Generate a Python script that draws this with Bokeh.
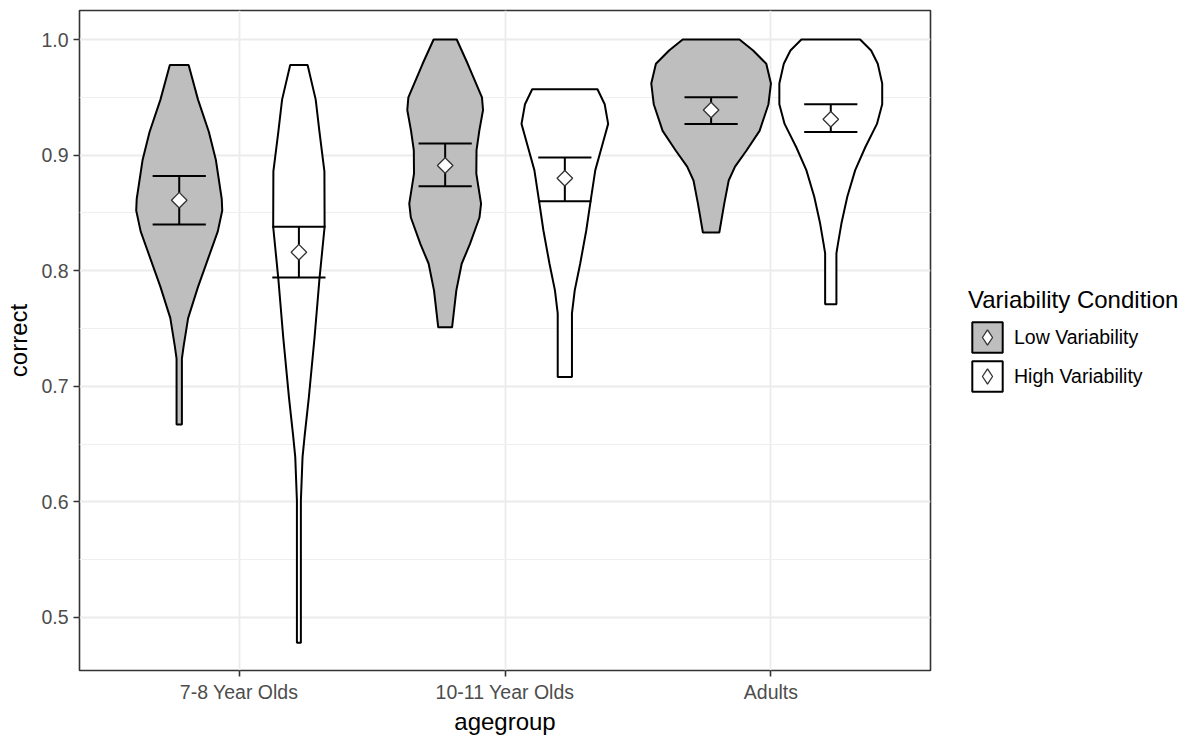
import numpy as np
from bokeh.plotting import figure
from bokeh.models import (ColumnDataSource, Legend, LegendItem, FixedTicker,
                          Range1d)
from bokeh.embed import file_html
from bokeh.resources import INLINE

# ---------------- data ----------------
agegroups = ["7-8 Year Olds", "10-11 Year Olds", "Adults"]
conditions = ["Low Variability", "High Variability"]
cond_fill = {"Low Variability": "#BEBEBE", "High Variability": "#FFFFFF"}

# violin density profiles (y value, relative density) per group/condition
v_78_low_y = [0.978, 0.948, 0.920, 0.896, 0.862, 0.852, 0.834, 0.810, 0.786, 0.759, 0.735, 0.724, 0.667]
v_78_low_d = [9.5, 19, 30, 37, 43, 43.5, 39, 29, 19, 9, 4.5, 2.7, 2.7]
v_78_high_y = [0.978, 0.948, 0.920, 0.886, 0.838, 0.793, 0.742, 0.690, 0.657, 0.639, 0.601, 0.478]
v_78_high_d = [8.8, 17, 20.8, 25.8, 26, 20.8, 15.8, 10, 5.8, 3.7, 2, 2]
v_1011_low_y = [1.0, 0.979, 0.950, 0.939, 0.921, 0.904, 0.884, 0.858, 0.846, 0.823, 0.806, 0.783, 0.751]
v_1011_low_d = [11.7, 22.8, 37.2, 38.3, 34.5, 31.7, 31.5, 36.3, 34.7, 25, 16.7, 11.3, 7]
v_1011_high_y = [0.957, 0.944, 0.927, 0.910, 0.887, 0.860, 0.835, 0.806, 0.783, 0.763, 0.708]
v_1011_high_d = [33, 40.3, 43.8, 38.3, 30.8, 26, 21.7, 15.5, 10, 7.2, 7.2]
v_ad_low_y = [1.0, 0.9905, 0.979, 0.962, 0.944, 0.921, 0.904, 0.890, 0.878, 0.858, 0.833]
v_ad_low_d = [28.7, 42.5, 55.8, 60.5, 58, 49, 35.8, 24.2, 17.8, 13.3, 8.3]
v_ad_high_y = [1.0, 0.9905, 0.979, 0.962, 0.944, 0.927, 0.907, 0.887, 0.864, 0.841, 0.823, 0.815, 0.771]
v_ad_high_d = [29.7, 40.8, 47.5, 52, 52, 46.7, 35, 24.7, 16.7, 10.8, 7.2, 5.7, 5.7]

# summary stats (mean and error bar limits), order: group x condition
stat_group = ["7-8 Year Olds", "7-8 Year Olds", "10-11 Year Olds", "10-11 Year Olds", "Adults", "Adults"]
stat_cond = ["Low Variability", "High Variability"] * 3
stat_mean = [0.861, 0.816, 0.891, 0.880, 0.939, 0.931]
stat_lower = [0.840, 0.794, 0.873, 0.860, 0.927, 0.920]
stat_upper = [0.882, 0.838, 0.910, 0.898, 0.950, 0.944]

violins = [
    ("7-8 Year Olds", "Low Variability", v_78_low_y, v_78_low_d),
    ("7-8 Year Olds", "High Variability", v_78_high_y, v_78_high_d),
    ("10-11 Year Olds", "Low Variability", v_1011_low_y, v_1011_low_d),
    ("10-11 Year Olds", "High Variability", v_1011_high_y, v_1011_high_d),
    ("Adults", "Low Variability", v_ad_low_y, v_ad_low_d),
    ("Adults", "High Variability", v_ad_high_y, v_ad_high_d),
]

# ---------------- geometry helpers ----------------
dodge = {"Low Variability": -0.225, "High Variability": 0.225}
gpos = {g: i + 1 for i, g in enumerate(agegroups)}
max_half = 0.225
dmax = max(max(v[3]) for v in violins)
err_half = 0.1

FONT = "Liberation Sans"
TICK_FS = "19.5px"
TITLE_FS = "24px"

p = figure(frame_width=851, frame_height=660, output_backend="svg",
           toolbar_location=None, min_border_left=79, min_border_top=10,
           min_border_right=263, min_border_bottom=70,
           x_range=Range1d(0.4, 3.6), y_range=Range1d(0.4541, 1.0251))

p.background_fill_color = "white"
p.border_fill_color = "white"
p.outline_line_color = "#333333"
p.outline_line_width = 1.6

# grid
p.xgrid.ticker = FixedTicker(ticks=[1, 2, 3])
p.ygrid.ticker = FixedTicker(ticks=[0.5, 0.6, 0.7, 0.8, 0.9, 1.0],
                             minor_ticks=[0.55, 0.65, 0.75, 0.85, 0.95])
for g in (p.xgrid, p.ygrid):
    g.grid_line_color = "#EBEBEB"
    g.grid_line_width = 1.8
p.ygrid.minor_grid_line_color = "#EFEFEF"
p.ygrid.minor_grid_line_width = 1

# axes
p.xaxis.ticker = FixedTicker(ticks=[1, 2, 3])
p.xaxis.major_label_overrides = {1: agegroups[0], 2: agegroups[1], 3: agegroups[2]}
p.yaxis.ticker = FixedTicker(ticks=[0.5, 0.6, 0.7, 0.8, 0.9, 1.0])
p.yaxis.major_label_overrides = {0.5: "0.5", 0.6: "0.6", 0.7: "0.7", 0.8: "0.8", 0.9: "0.9", 1.0: "1.0"}
for ax in (p.xaxis, p.yaxis):
    ax.axis_line_color = None
    ax.major_tick_line_color = "#333333"
    ax.major_tick_line_width = 1.6
    ax.major_tick_out = 6
    ax.major_tick_in = 0
    ax.minor_tick_line_color = None
    ax.major_label_text_font = FONT
    ax.major_label_text_font_size = TICK_FS
    ax.major_label_text_color = "#4D4D4D"
    ax.axis_label_text_font = FONT
    ax.axis_label_text_font_size = TITLE_FS
    ax.axis_label_text_font_style = "normal"
    ax.axis_label_text_color = "#000000"
p.xaxis.axis_label = "agegroup"
p.yaxis.axis_label = "correct"
p.xaxis.major_label_standoff = 4
p.yaxis.major_label_standoff = 5
p.xaxis.axis_label_standoff = 2
p.yaxis.axis_label_standoff = 6

# violins
patch_r = {}
for g, c, ys, ds in violins:
    xc = gpos[g] + dodge[c]
    hw = [d / dmax * max_half for d in ds]
    xs = [xc - h for h in hw] + [xc + h for h in reversed(hw)]
    yy = list(ys) + list(reversed(ys))
    r = p.patch(xs, yy, fill_color=cond_fill[c], line_color="#000000", line_width=2)
    patch_r.setdefault(c, r)

# error bars
xpos = [gpos[g] + dodge[c] for g, c in zip(stat_group, stat_cond)]
src = ColumnDataSource(dict(x=xpos, x0=[x - err_half for x in xpos], x1=[x + err_half for x in xpos],
                            mean=stat_mean, lo=stat_lower, hi=stat_upper))
p.segment(x0="x", x1="x", y0="lo", y1="hi", source=src, line_color="#000000", line_width=2)
p.segment(x0="x0", x1="x1", y0="lo", y1="lo", source=src, line_color="#000000", line_width=2)
p.segment(x0="x0", x1="x1", y0="hi", y1="hi", source=src, line_color="#000000", line_width=2)
# diamond used for the legend key (drawn beneath the mean markers, fully covered)
key_diam = p.scatter(x="x", y="mean", source=src, marker="diamond", size=14,
                     fill_color="white", line_color="#333333", line_width=1.3)
diam = p.scatter(x="x", y="mean", source=src, marker="square", angle=np.pi / 4, size=11,
                 fill_color="white", line_color="#333333", line_width=1.3)

# legend
items = [LegendItem(label=c, renderers=[patch_r[c], key_diam]) for c in conditions]
legend = Legend(items=items, location=(38, 275), title="Variability Condition")
legend.title_text_font = FONT
legend.title_text_font_size = TITLE_FS
legend.title_text_font_style = "normal"
legend.title_text_color = "#000000"
legend.title_standoff = 4
legend.label_text_font = FONT
legend.label_text_font_size = TICK_FS
legend.label_text_color = "#000000"
legend.glyph_width = 38
legend.glyph_height = 38
legend.spacing = 1
legend.label_standoff = 8
legend.padding = 0
legend.margin = 0
legend.border_line_color = None
legend.background_fill_alpha = 0
p.add_layout(legend, "right")

open("out.html", "w").write(file_html(p, INLINE))
